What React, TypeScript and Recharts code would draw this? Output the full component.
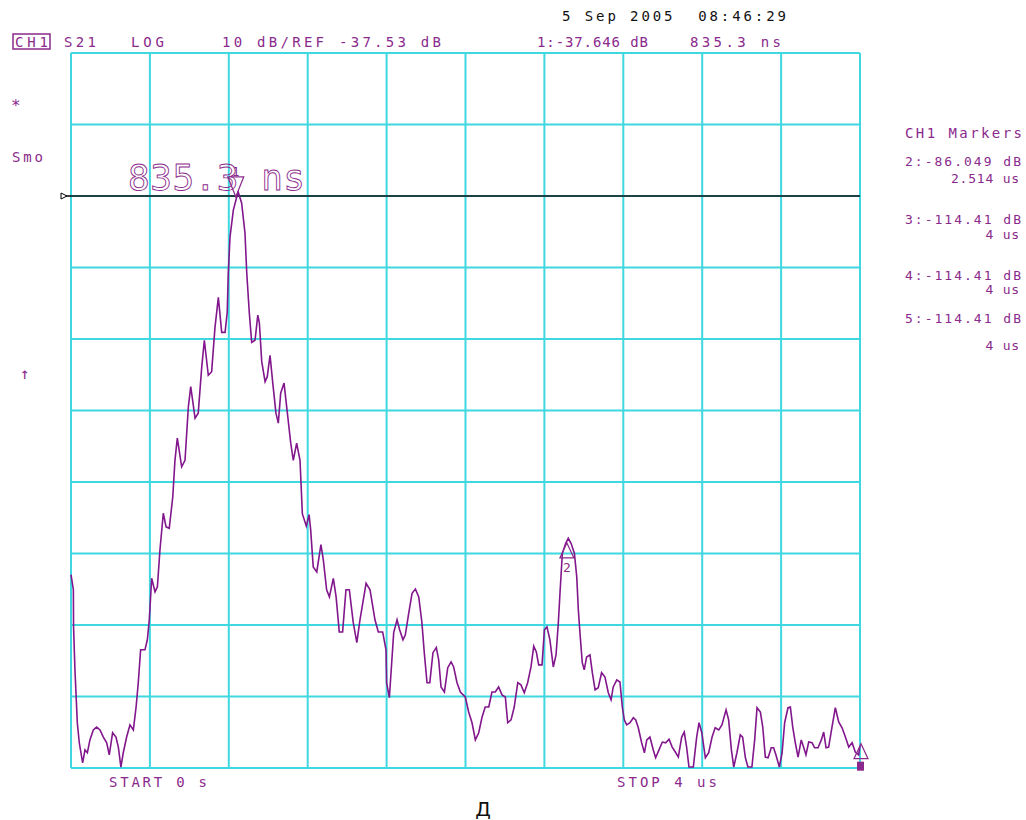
import React from "react";
import {
  LineChart, Line, XAxis, YAxis, CartesianGrid, ReferenceLine, ReferenceDot
} from "recharts";

// S21 time-domain trace, 0..4 us, levels in dB
const timeUs = [
  0.000, 0.012, 0.013, 0.020, 0.032, 0.042, 0.059, 0.071, 0.083, 0.096,
  0.113, 0.130, 0.147, 0.164, 0.181, 0.194, 0.211, 0.228, 0.240, 0.253,
  0.265, 0.282, 0.299, 0.316, 0.330, 0.341, 0.353, 0.375, 0.387, 0.397,
  0.409, 0.426, 0.438, 0.451, 0.468, 0.482, 0.498, 0.516, 0.527, 0.539,
  0.561, 0.578, 0.595, 0.607, 0.629, 0.645, 0.663, 0.676, 0.696, 0.713,
  0.730, 0.747, 0.764, 0.781, 0.792, 0.797, 0.806, 0.823, 0.840, 0.848,
  0.865, 0.882, 0.891, 0.904, 0.916, 0.933, 0.947, 0.955, 0.967, 0.984,
  0.995, 1.009, 1.023, 1.039, 1.051, 1.063, 1.080, 1.097, 1.114, 1.127,
  1.144, 1.161, 1.173, 1.193, 1.207, 1.215, 1.228, 1.246, 1.267, 1.279,
  1.296, 1.310, 1.330, 1.344, 1.360, 1.377, 1.394, 1.411, 1.431, 1.449,
  1.465, 1.496, 1.516, 1.541, 1.558, 1.580, 1.597, 1.600, 1.614, 1.636,
  1.653, 1.666, 1.683, 1.695, 1.712, 1.729, 1.746, 1.763, 1.779, 1.791,
  1.805, 1.819, 1.835, 1.852, 1.864, 1.876, 1.893, 1.910, 1.927, 1.940,
  1.957, 1.974, 1.999, 2.016, 2.033, 2.050, 2.067, 2.084, 2.100, 2.118,
  2.134, 2.151, 2.168, 2.185, 2.202, 2.214, 2.231, 2.247, 2.265, 2.281,
  2.298, 2.315, 2.332, 2.346, 2.359, 2.371, 2.388, 2.400, 2.413, 2.428,
  2.445, 2.459, 2.470, 2.479, 2.491, 2.508, 2.521, 2.535, 2.552, 2.564,
  2.572, 2.581, 2.592, 2.602, 2.614, 2.631, 2.643, 2.657, 2.673, 2.690,
  2.707, 2.724, 2.738, 2.749, 2.767, 2.783, 2.795, 2.805, 2.817, 2.834,
  2.851, 2.863, 2.876, 2.893, 2.907, 2.919, 2.935, 2.952, 2.964, 2.981,
  2.998, 3.015, 3.032, 3.048, 3.066, 3.079, 3.096, 3.109, 3.121, 3.133,
  3.155, 3.172, 3.184, 3.198, 3.216, 3.233, 3.250, 3.266, 3.284, 3.300,
  3.321, 3.334, 3.348, 3.360, 3.376, 3.393, 3.405, 3.419, 3.432, 3.452,
  3.466, 3.478, 3.495, 3.507, 3.520, 3.534, 3.550, 3.562, 3.574, 3.591,
  3.605, 3.618, 3.635, 3.647, 3.659, 3.672, 3.686, 3.702, 3.715, 3.726,
  3.740, 3.757, 3.770, 3.787, 3.804, 3.816, 3.828, 3.841, 3.858, 3.875,
  3.892, 3.909, 3.926, 3.943, 3.960, 3.976, 3.993, 4.000,
];

const levelDb = [
  -90.5, -92.6, -97.8, -103.8, -111.2, -114.0, -116.8, -115.0, -115.4, -113.6,
  -112.2, -111.8, -112.2, -113.2, -114.0, -115.7, -112.6, -113.2, -114.6, -117.4,
  -115.4, -113.2, -111.5, -112.2, -109.0, -105.6, -101.0, -101.0, -99.6, -96.8,
  -91.0, -92.9, -92.2, -87.0, -81.9, -83.8, -84.0, -79.6, -74.5, -71.4,
  -75.4, -74.5, -67.0, -64.2, -68.6, -67.9, -61.4, -57.7, -62.6, -62.1,
  -55.9, -51.7, -56.6, -56.6, -53.8, -48.6, -43.3, -39.5, -37.7, -37.0,
  -38.5, -42.7, -48.3, -53.9, -58.0, -57.7, -54.2, -55.3, -60.7, -63.5,
  -62.8, -59.8, -63.7, -67.9, -69.3, -65.1, -63.7, -67.9, -72.1, -74.5,
  -72.1, -74.5, -82.0, -83.7, -82.1, -84.2, -89.4, -90.1, -86.3, -88.4,
  -92.6, -93.6, -91.0, -93.6, -98.5, -98.5, -92.6, -92.6, -97.2, -100.0,
  -96.8, -91.7, -92.6, -96.8, -98.5, -98.5, -101.0, -105.6, -107.7, -98.6,
  -96.8, -98.2, -99.6, -98.9, -95.9, -93.1, -92.5, -93.6, -97.2, -101.4,
  -105.6, -105.6, -101.4, -100.7, -102.4, -106.2, -106.9, -103.5, -102.7, -103.4,
  -105.6, -106.9, -107.6, -109.7, -111.2, -113.6, -112.6, -110.4, -109.0, -109.0,
  -106.9, -106.9, -106.2, -107.3, -107.6, -111.2, -110.8, -109.0, -105.6, -105.9,
  -107.0, -105.6, -103.4, -100.5, -101.3, -103.1, -103.1, -98.2, -97.8, -99.6,
  -103.4, -101.7, -97.5, -93.1, -87.5, -86.1, -85.4, -86.1, -87.5, -90.8,
  -95.4, -98.9, -102.8, -103.8, -102.0, -101.7, -104.2, -106.6, -106.3, -104.2,
  -104.8, -107.0, -108.0, -106.2, -105.2, -105.5, -109.0, -110.8, -111.5, -111.2,
  -110.5, -110.8, -111.9, -114.0, -115.4, -113.6, -113.2, -115.0, -116.1, -115.0,
  -113.9, -114.0, -113.5, -114.6, -115.4, -116.0, -113.2, -112.5, -114.6, -117.4,
  -117.4, -113.2, -111.2, -112.6, -116.1, -115.4, -113.2, -111.9, -112.2, -111.5,
  -109.4, -110.8, -115.0, -117.4, -115.4, -112.9, -113.2, -116.1, -117.4, -117.4,
  -113.6, -109.1, -109.7, -111.8, -116.0, -116.1, -114.7, -114.7, -115.7, -117.4,
  -115.4, -111.2, -109.1, -109.0, -111.8, -114.0, -116.0, -113.6, -114.7, -115.7,
  -113.9, -114.0, -114.7, -114.7, -113.6, -112.5, -114.7, -114.6, -111.8, -109.1,
  -111.1, -111.9, -113.2, -114.6, -114.0, -115.3, -115.7, -114.41,
];

// 10 dB/div, reference -37.53 dB two divisions below the top
const refLevel = -37.53;
const yTicks = [-117.53, -107.53, -97.53, -87.53, -77.53, -67.53, -57.53, -47.53, -37.53, -27.53, -17.53];
const xTicks = [0, 0.4, 0.8, 1.2, 1.6, 2.0, 2.4, 2.8, 3.2, 3.6, 4.0];

// markers: [time us, level dB]
const marker1 = [0.8353, -37.646];
const marker2 = [2.514, -86.049];
const marker345 = [4.0, -114.41];

const markerLines = [
  { text: "2:-86.049 dB", y: 166, anchor: "start" },
  { text: "2.514 us", y: 183, anchor: "end" },
  { text: "3:-114.41 dB", y: 224, anchor: "start" },
  { text: "4 us", y: 239, anchor: "end" },
  { text: "4:-114.41 dB", y: 280, anchor: "start" },
  { text: "4 us", y: 294, anchor: "end" },
  { text: "5:-114.41 dB", y: 323, anchor: "start" },
  { text: "4 us", y: 350, anchor: "end" },
];

const data = timeUs.map((t, i) => ({ t, db: levelDb[i] }));

const PURPLE = "#8a2a8c";
const TRACE = "#82168c";
const CYAN = "#3fd8e0";
const MONO = "'DejaVu Sans Mono', 'Liberation Mono', monospace";

function Marker1Shape(props: any) {
  const { cx, cy } = props;
  return (
    <g>
      <path d={`M${cx - 8},${cy - 20} L${cx + 8},${cy - 20} L${cx},${cy} Z`} fill="none" stroke={PURPLE} strokeWidth={1.2} />
      <text x={cx} y={cy - 21} fontSize={12} fontFamily={MONO} fill={PURPLE} textAnchor="middle">1</text>
    </g>
  );
}

function Marker2Shape(props: any) {
  const { cx, cy } = props;
  return (
    <g>
      <path d={`M${cx},${cy} L${cx - 7},${cy + 15} L${cx + 7},${cy + 15} Z`} fill="none" stroke={PURPLE} strokeWidth={1.2} />
      <text x={cx} y={cy + 29} fontSize={13} fontFamily={MONO} fill={PURPLE} textAnchor="middle">2</text>
    </g>
  );
}

function EndMarkerShape(props: any) {
  const { cx, cy } = props;
  return (
    <g>
      <path d={`M${cx + 1},${cy - 2} L${cx - 6},${cy + 13} L${cx + 8},${cy + 13} Z`} fill="none" stroke={PURPLE} strokeWidth={1.2} />
      <rect x={cx - 3} y={cy + 16} width={7} height={9} fill={PURPLE} />
    </g>
  );
}

function RefPointer(props: any) {
  const { viewBox } = props;
  if (!viewBox) return null;
  const x = viewBox.x;
  const y = viewBox.y;
  return (
    <g>
      <line x1={x - 10} y1={y} x2={x} y2={y} stroke="#000" strokeWidth={1.5} />
      <path d={`M${x - 10},${y - 3} L${x - 4},${y} L${x - 10},${y + 3} Z`} fill="#fff" stroke="#000" strokeWidth={1} />
    </g>
  );
}

export default function App() {
  return (
    <div style={{ position: "absolute", left: 0, top: 0, width: 1026, height: 820, background: "#fff" }}>
      <LineChart
        width={1026}
        height={820}
        data={data}
        margin={{ top: 53, right: 166, bottom: 52, left: 71 }}
      >
        <CartesianGrid stroke={CYAN} strokeWidth={2} />
        <XAxis dataKey="t" type="number" domain={[0, 4]} ticks={xTicks} hide />
        <YAxis type="number" domain={[-117.53, -17.53]} ticks={yTicks} hide allowDataOverflow />
        <ReferenceLine y={refLevel} stroke="#111" strokeWidth={1.5} label={<RefPointer />} />
        <Line
          type="linear"
          dataKey="db"
          stroke={TRACE}
          strokeWidth={1.6}
          dot={false}
          isAnimationActive={false}
        />
        <ReferenceDot x={marker1[0]} y={marker1[1]} r={0} shape={<Marker1Shape />} />
        <ReferenceDot x={marker2[0]} y={marker2[1]} r={0} shape={<Marker2Shape />} />
        <ReferenceDot x={marker345[0]} y={marker345[1]} r={0} shape={<EndMarkerShape />} />
      </LineChart>

      <svg width={1026} height={820} style={{ position: "absolute", left: 0, top: 0, pointerEvents: "none" }}>
        <g fontFamily={MONO} fontSize={14}>
          <text x={562} y={21} fill="#111" textLength={224} lengthAdjust="spacing" xmlSpace="preserve">5 Sep 2005  08:46:29</text>

          <rect x={13} y={34} width={37} height={15} fill="none" stroke={PURPLE} strokeWidth={1.5} />
          <text x={15} y={47} fill={PURPLE} textLength={33} lengthAdjust="spacing">CH1</text>
          <text x={64} y={47} fill={PURPLE} textLength={32} lengthAdjust="spacing">S21</text>
          <text x={131} y={47} fill={PURPLE} textLength={33} lengthAdjust="spacing">LOG</text>
          <text x={222} y={47} fill={PURPLE} textLength={219} lengthAdjust="spacing">10 dB/REF -37.53 dB</text>
          <text x={537} y={47} fill={PURPLE} textLength={111} lengthAdjust="spacing">1:-37.646 dB</text>
          <text x={690} y={47} fill={PURPLE} textLength={91} lengthAdjust="spacing">835.3 ns</text>

          <text x={11} y={111} fill={PURPLE} fontSize={16}>*</text>
          <text x={12} y={162} fill={PURPLE} textLength={31} lengthAdjust="spacing">Smo</text>
          <text x={20} y={379} fill={PURPLE} fontSize={16}>↑</text>

          <text x={905} y={138} fill={PURPLE} textLength={117} lengthAdjust="spacing">CH1 Markers</text>
          {markerLines.map((m, i) =>
            m.anchor === "start" ? (
              <text key={i} x={905} y={m.y} fill={PURPLE} fontSize={13} textLength={116} lengthAdjust="spacing">
                {m.text}
              </text>
            ) : (
              <text key={i} x={1020} y={m.y} fill={PURPLE} fontSize={13} textAnchor="end" letterSpacing={0.8}>
                {m.text}
              </text>
            )
          )}

          <text x={109} y={787} fill={PURPLE} textLength={98} lengthAdjust="spacing">START 0 s</text>
          <text x={617} y={787} fill={PURPLE} textLength={100} lengthAdjust="spacing">STOP 4 us</text>
        </g>

        <text
          x={128}
          y={190}
          fontFamily={MONO}
          fontSize={36}
          fill="none"
          stroke={PURPLE}
          strokeWidth={0.9}
          textLength={177}
          lengthAdjust="spacing"
        >
          835.3 ns
        </text>

        <text x={483} y={816} fontFamily="'DejaVu Sans', sans-serif" fontSize={20} fill="#111" textAnchor="middle">Д</text>
      </svg>
    </div>
  );
}
